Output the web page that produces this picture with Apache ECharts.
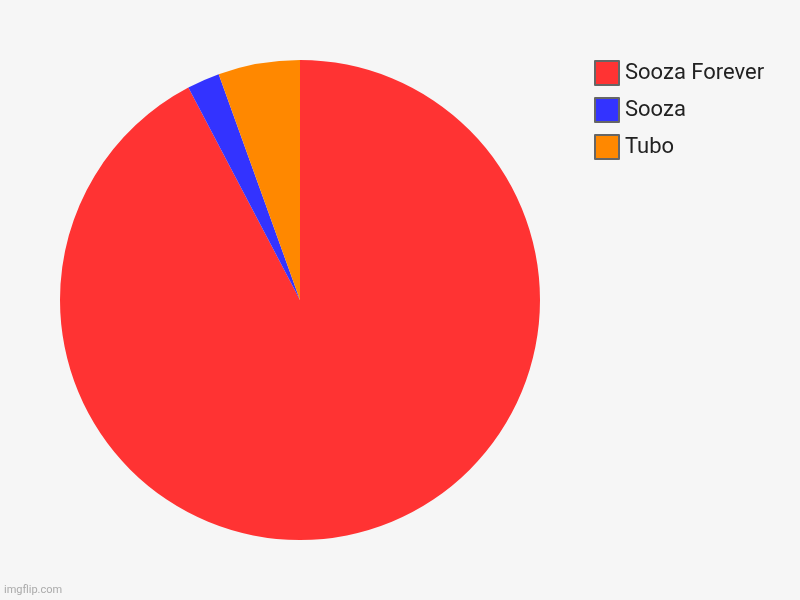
<!DOCTYPE html>
<html>
<head>
<meta charset="utf-8">
<style>
  html, body { margin: 0; padding: 0; background: #f6f6f6; }
  #chart { width: 800px; height: 600px; }
</style>
<script src="https://cdn.jsdelivr.net/npm/echarts@6/dist/echarts.min.js"></script>
</head>
<body>
<div id="chart"></div>
<script>
var names = ['Sooza Forever', 'Sooza', 'Tubo'];
var values = [92.3, 2.2, 5.5];
var colors = ['#ff3333', '#3333ff', '#ff8800'];

var chart = echarts.init(document.getElementById('chart'));

var data = names.map(function(n, i) {
    return { name: n, value: values[i], itemStyle: { color: colors[i] } };
});

chart.setOption({
    backgroundColor: '#f6f6f6',
    animation: false,
    legend: {
        orient: 'vertical',
        left: 594,
        top: 60,
        padding: 0,
        itemWidth: 24,
        itemHeight: 24,
        itemGap: 11,
        icon: 'rect',
        itemStyle: { borderColor: '#666', borderWidth: 2 },
        textStyle: { fontFamily: 'Roboto', fontSize: 22, color: '#222', padding: [0, 0, 0, 1] },
        data: names
    },
    graphic: [{
        type: 'text',
        left: 4,
        bottom: 4,
        style: { text: 'imgflip.com', fill: '#aaa', fontSize: 11, fontFamily: 'Roboto' }
    }],
    series: [{
        type: 'pie',
        center: [300, 300],
        radius: [0, 240],
        startAngle: 90,
        clockwise: true,
        label: { show: false },
        labelLine: { show: false },
        emphasis: { disabled: true },
        data: data
    }]
});
</script>
</body>
</html>
